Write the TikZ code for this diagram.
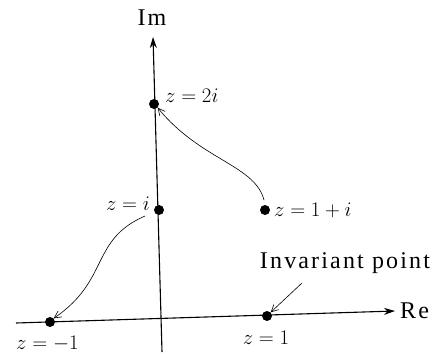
\documentclass[tikz,border=0pt]{standalone}
\usepackage{fontspec}
\setmainfont{Liberation Serif}
\newfontfamily\spacedfont[LetterSpace=9]{Liberation Serif}
\usetikzlibrary{arrows.meta}
\begin{document}
\begin{tikzpicture}[x=1pt,y=-1pt,
  axis/.style={line width=1.1pt,-{Stealth[length=11pt,width=7pt]}},
  pt/.style={circle,fill=black,inner sep=0pt,minimum size=10pt},
  lab/.style={font=\fontsize{20.5}{24}\selectfont,inner sep=0pt},
  big/.style={font=\spacedfont\fontsize{24}{28}\selectfont,inner sep=0pt},
  curv/.style={line width=0.6pt,-{Straight Barb[length=7pt,width=7pt]}}]
\useasboundingbox (0,0) rectangle (442,354);
% axes
\coordinate (vbot) at (162,352);
\coordinate (vtop) at (153,37);
\coordinate (hleft) at (16,323);
\coordinate (hright) at (395,311);
\draw[axis] (vbot) -- (vtop);
\draw[axis] (hleft) -- (hright);
\node[big] (im) at (152,18) {Im};
\node[big,anchor=west] (re) at (400,311) {Re};
% points
\node[pt] (p2i) at (154,104) {};
\node[pt] (pi) at (159,210) {};
\node[pt] (p1i) at (265,210) {};
\node[pt] (pm1) at (50,322) {};
\node[pt] (p1) at (267,316) {};
% labels
\node[lab,anchor=west] (l2i) at (165,96) {$z=2i$};
\node[lab,anchor=east] (li) at (150,204) {$z=i$};
\node[lab,anchor=west] (l1i) at (274,210) {$z=1+i$};
\node[lab,anchor=west] (lm1) at (16,344) {$z=-1$};
\node[lab] (l1) at (266,338) {$z=1$};
\node[big] (inv) at (345,263) {Invariant point};
% arrows
\coordinate (a1s) at (264,200);
\coordinate (a2s) at (145,216);
\coordinate (a3s) at (302,283);
\draw[curv] (a1s) .. controls (255,165) and (200,160) .. (p2i.south east);
\draw[curv] (a2s) .. controls (90,240) and (110,280) .. (pm1.north east);
\draw[curv] (a3s) -- (p1.north east);
\end{tikzpicture}
\end{document}
